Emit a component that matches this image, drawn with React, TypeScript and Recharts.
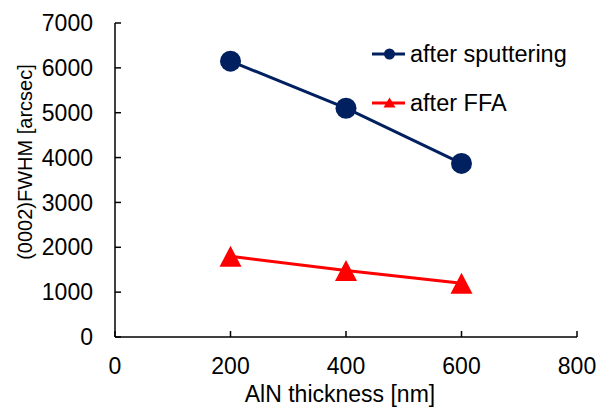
import { LineChart, Line, XAxis, YAxis, Legend, Label } from 'recharts';

const thickness = [200, 400, 600];
const afterSputtering = [6150, 5100, 3870];
const afterFFA = [1800, 1480, 1200];
const xTicks = [0, 200, 400, 600, 800];
const yTicks = [0, 1000, 2000, 3000, 4000, 5000, 6000, 7000];

const NAVY = '#002060';
const RED = '#FF0000';
const FONT = '"Liberation Sans", Arial, sans-serif';

const chartData = thickness.map((t, i) => ({
  thickness: t,
  sputtering: afterSputtering[i],
  ffa: afterFFA[i],
}));

function TriangleDot(props: any) {
  const { cx, cy } = props;
  if (cx == null || cy == null) return null;
  return (
    <polygon
      points={`${cx},${cy - 10.5} ${cx - 11},${cy + 10.5} ${cx + 11},${cy + 10.5}`}
      fill={RED}
    />
  );
}

function LegendBox() {
  const row = (top: number, label: string, color: string, kind: 'circle' | 'tri') => (
    <div style={{ position: 'absolute', left: 0, top, height: 26, width: 230 }}>
      <svg width={36} height={26} style={{ position: 'absolute', left: 12, top: 0 }}>
        <line x1={0} y1={13} x2={33} y2={13} stroke={color} strokeWidth={3} />
        {kind === 'circle' ? (
          <circle cx={17.5} cy={13} r={5.5} fill={color} />
        ) : (
          <polygon points="17.5,7.5 11.5,17.5 23.5,17.5" fill={color} />
        )}
      </svg>
      <div
        style={{
          position: 'absolute',
          left: 50,
          top: 0,
          lineHeight: '26px',
          fontSize: 23.5,
          fontFamily: FONT,
          color: '#000',
          whiteSpace: 'nowrap',
        }}
      >
        {label}
      </div>
    </div>
  );
  return (
    <div style={{ position: 'relative', width: 230, height: 90 }}>
      {row(11, 'after sputtering', NAVY, 'circle')}
      {row(60, 'after FFA', RED, 'tri')}
    </div>
  );
}

export default function App() {
  return (
    <div style={{ position: 'absolute', left: 0, top: 0, width: 597, height: 408, background: '#fff' }}>
      <LineChart width={597} height={408} data={chartData} margin={{ top: 23, right: 20, bottom: 0, left: 0 }}>
        <XAxis
          dataKey="thickness"
          type="number"
          domain={[0, 800]}
          ticks={xTicks}
          height={71}
          stroke="#000"
          strokeWidth={1.5}
          tickSize={-6}
          tickMargin={27}
          tick={{ fontSize: 23, fill: '#000', fontFamily: FONT }}
        >
          <Label
            content={() => (
              <text x={340} y={402} textAnchor="middle" fontSize={23} fontFamily={FONT} fill="#000">
                AlN thickness [nm]
              </text>
            )}
          />
        </XAxis>
        <XAxis
          xAxisId="top"
          dataKey="thickness"
          type="number"
          orientation="top"
          domain={[0, 800]}
          ticks={xTicks}
          height={0}
          stroke="#000"
          strokeWidth={1.5}
          tickSize={-6}
          tick={false}
        />
        <YAxis
          type="number"
          domain={[0, 7000]}
          ticks={yTicks}
          width={115}
          stroke="#000"
          strokeWidth={1.5}
          tickSize={-6}
          tickMargin={28}
          tick={{ fontSize: 23, fill: '#000', fontFamily: FONT }}
        >
          <Label
            content={() => (
              <text
                x={32}
                y={162}
                transform="rotate(-90 32 162)"
                textAnchor="middle"
                fontSize={20}
                fontFamily={FONT}
                fill="#000"
              >
                (0002)FWHM [arcsec]
              </text>
            )}
          />
        </YAxis>
        <YAxis
          yAxisId="right"
          type="number"
          orientation="right"
          domain={[0, 7000]}
          ticks={yTicks}
          width={0}
          stroke="#000"
          strokeWidth={1.5}
          tickSize={-6}
          tick={false}
        />
        <Legend
          layout="vertical"
          align="center"
          verticalAlign="middle"
          wrapperStyle={{ top: 30, left: 360, width: 230 }}
          content={() => <LegendBox />}
        />
        <Line
          dataKey="sputtering"
          stroke={NAVY}
          strokeWidth={3}
          dot={{ r: 10.5, fill: NAVY, stroke: NAVY, strokeWidth: 0 }}
          activeDot={false}
          isAnimationActive={false}
        />
        <Line
          dataKey="ffa"
          stroke={RED}
          strokeWidth={3}
          dot={<TriangleDot />}
          activeDot={false}
          isAnimationActive={false}
        />
      </LineChart>
    </div>
  );
}
